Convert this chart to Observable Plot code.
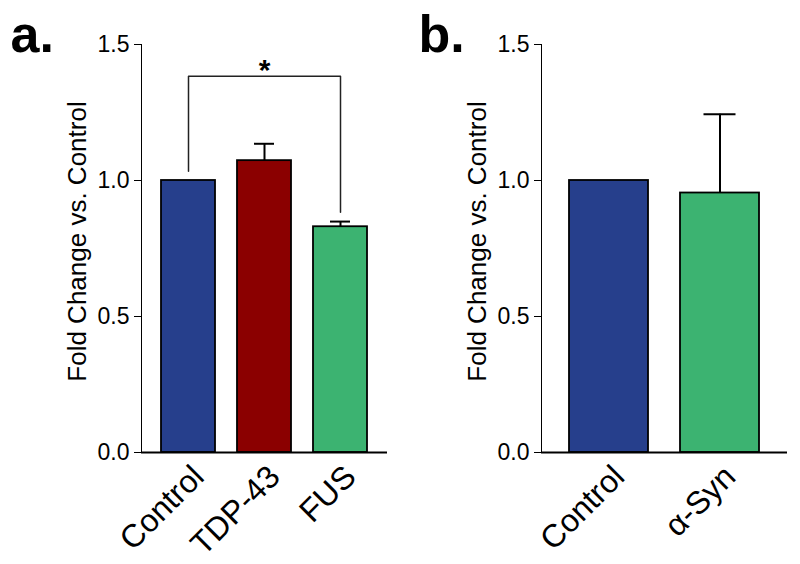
<!DOCTYPE html>
<html>
<head>
<meta charset="utf-8">
<script src="https://cdn.jsdelivr.net/npm/d3@7"></script>
<script src="https://cdn.jsdelivr.net/npm/@observablehq/plot@0.6"></script>
<style>
  html, body { margin: 0; padding: 0; background: #fff; }
  #wrap { width: 800px; height: 564px; display: flex; }
  #wrap > * { flex: none; }
</style>
</head>
<body>
<div id="wrap"></div>
<script>
// ---- Panel a data ----
const catsA = ["Control", "TDP-43", "FUS"];
const valsA = [1.0, 1.073, 0.830];
const errsA = [0, 0.062, 0.019];
const colorsA = ["#263f8c", "#8b0000", "#3cb371"];
// significance bracket (Control vs FUS)
const bracketX = ["Control", "Control", "FUS", "FUS"];
const bracketY = [1.034, 1.383, 1.383, 0.883];
const starX = "TDP-43";
const starY = 1.405;

// ---- Panel b data ----
const catsB = ["Control", "α-Syn"];
const valsB = [1.0, 0.954];
const errsB = [0, 0.29];
const colorsB = ["#263f8c", "#3cb371"];

const yTicks = [0, 0.5, 1.0, 1.5];
const yTitle = "Fold Change vs. Control";
const FONT = "'Liberation Sans', Arial, Helvetica, sans-serif";

function panel(cats, vals, errs, colors, letter, letterDx, capInset, extra) {
  const rows = cats.map((c, i) => ({cat: c, v: vals[i], e: errs[i], col: colors[i]}));
  const errRows = rows.filter(d => d.e > 0);
  return Plot.plot({
    width: 400,
    height: 564,
    marginTop: 44,
    marginBottom: 112,
    marginLeft: 141,
    marginRight: 13,
    style: {fontFamily: FONT, fontSize: "23px", color: "#000", background: "#fff", overflow: "visible"},
    x: {domain: cats, paddingInner: 0.29, paddingOuter: 0.25, label: null},
    y: {domain: [0, 1.5], ticks: yTicks, tickSize: 7, tickPadding: 5, tickFormat: d3.format(".1f"), line: true, label: null},
    marks: [
      Plot.barY(rows, {x: "cat", y: "v", fill: "col", stroke: "#000", strokeWidth: 1.8}),
      Plot.ruleX(errRows, {x: "cat", y1: "v", y2: d => d.v + d.e, stroke: "#000", strokeWidth: 2}),
      Plot.tickY(errRows, {x: "cat", y: d => d.v + d.e, stroke: "#000", strokeWidth: 2, insetLeft: capInset, insetRight: capInset}),
      ...extra,
      Plot.ruleY([0], {stroke: "#000", strokeWidth: 1.8}),
      Plot.axisX({tickSize: 0, tickRotate: -45, fontSize: 32, tickPadding: 4, dx: 10, dy: 15, label: null}),
      Plot.text([yTitle], {frameAnchor: "left", textAnchor: "middle", rotate: -90, dx: -64, dy: -7, fontSize: 26, fill: "#000"}),
      Plot.text([letter], {frameAnchor: "top-left", textAnchor: "start", lineAnchor: "bottom", dx: letterDx, dy: 7, fontSize: 52, fontWeight: "bold", fill: "#000"})
    ]
  });
}

const bracketRows = bracketX.map((x, i) => ({x, y: bracketY[i]}));
const extraA = [
  Plot.line(bracketRows, {x: "x", y: "y", stroke: "#222", strokeWidth: 1.5, curve: "linear"}),
  Plot.text(["*"], {x: () => starX, y: () => starY, text: d => d, fontSize: 30, fontWeight: "bold", fill: "#000"})
];

const wrap = document.getElementById("wrap");
wrap.appendChild(panel(catsA, valsA, errsA, colorsA, "a.", -131, 17, extraA));
wrap.appendChild(panel(catsB, valsB, errsB, colorsB, "b.", -123, 23.5, []));
</script>
</body>
</html>
